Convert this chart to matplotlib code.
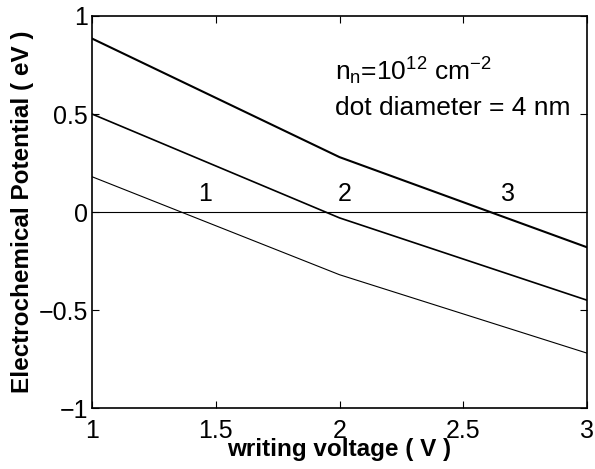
import numpy as np
import matplotlib.pyplot as plt

plt.rcParams['font.family'] = ['Liberation Sans', 'DejaVu Sans']
plt.rcParams['mathtext.fontset'] = 'custom'
plt.rcParams['mathtext.rm'] = 'Liberation Sans'
plt.rcParams['mathtext.it'] = 'Liberation Sans'

# writing voltage (V) -> electrochemical potential (eV), kink at 2 V
voltage = [1.0, 2.0, 3.0]
level_top = [0.885, 0.28, -0.18]
level_mid = [0.50, -0.03, -0.45]
level_low = [0.18, -0.32, -0.72]

crossing_labels = ['1', '2', '3']
crossing_x = [1.455, 2.02, 2.68]


def main():
    fig = plt.figure(figsize=(5.95, 4.69), dpi=100)
    ax = fig.add_axes([92 / 595, 61 / 469, 495 / 595, 392 / 469])

    ax.plot(voltage, level_top, color='black', lw=1.5)
    ax.plot(voltage, level_mid, color='black', lw=1.2)
    ax.plot(voltage, level_low, color='black', lw=0.8)
    ax.axhline(0, color='black', lw=0.8)

    for lab, xc in zip(crossing_labels, crossing_x):
        ax.text(xc, 0.03, lab, fontsize=18, ha='center', va='bottom')

    ax.text(1.98, 0.72, r'n$_\mathrm{n}$=10$^{12}$ cm$^{-2}$', fontsize=19, va='center')
    ax.text(1.98, 0.53, 'dot diameter = 4 nm', fontsize=19, va='center')

    ax.set_xlim(1, 3)
    ax.set_ylim(-1, 1)
    ax.set_xticks([1, 1.5, 2, 2.5, 3])
    ax.set_xticklabels(['1', '1.5', '2', '2.5', '3'])
    ax.set_yticks([-1, -0.5, 0, 0.5, 1])
    ax.set_yticklabels(['\u22121', '\u22120.5', '0', '0.5', '1'])
    ax.tick_params(direction='in', top=True, right=True, labelsize=18, length=5, width=0.8)
    ax.tick_params(axis='x', pad=8)
    ax.tick_params(axis='y', pad=3)
    for sp in ax.spines.values():
        sp.set_linewidth(1.2)

    ax.set_xlabel('writing voltage ( V )', fontsize=17.5, fontweight='bold', labelpad=-4)
    ax.set_ylabel('Electrochemical Potential ( eV )', fontsize=17.5, fontweight='bold', labelpad=3)

    fig.savefig('out.png', dpi=100)


if __name__ == "__main__":
    main()
